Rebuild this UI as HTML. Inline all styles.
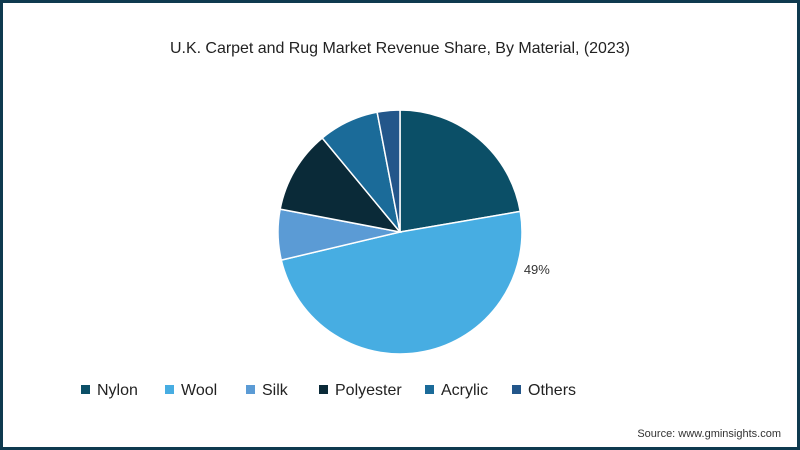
<!DOCTYPE html>
<html><head><meta charset="utf-8"><style>
html,body{margin:0;padding:0;background:#fff}
#wrap{position:relative;width:800px;height:450px;box-sizing:border-box;border:3px solid #0e3a4f;background:#fff;font-family:"Liberation Sans",sans-serif;overflow:hidden}
</style></head><body>
<div id="wrap">
<svg id="svg" width="794" height="444" style="position:absolute;left:0;top:0">
<text x="397" y="50" text-anchor="middle" font-size="16" fill="#222" textLength="460">U.K. Carpet and Rug Market Revenue Share, By Material, (2023)</text>
<g id="slices"></g>
<g id="legend"></g>
<text x="778" y="434" text-anchor="end" font-size="11" fill="#333">Source: www.gminsights.com</text>
</svg>
</div>
<script>
const categories=["Nylon","Wool","Silk","Polyester","Acrylic","Others"];
const values=[22.3,49,6.7,11,8,3];
const colors=["#0b4f67","#47ade2","#5b9bd5","#0a2a38","#1b6b99","#23568a"];
const legendX=[78,162,243,316,422,509];
const ns="http://www.w3.org/2000/svg";
const cx=397,cy=229,r=122;
const total=values.reduce((a,b)=>a+b,0);
const g=document.getElementById('slices');
let a0=0;
values.forEach((v,i)=>{
  const a1=a0+v/total*2*Math.PI;
  const x0=cx+r*Math.sin(a0),y0=cy-r*Math.cos(a0),x1=cx+r*Math.sin(a1),y1=cy-r*Math.cos(a1);
  const p=document.createElementNS(ns,'path');
  p.setAttribute('d',`M${cx},${cy}L${x0},${y0}A${r},${r} 0 ${a1-a0>Math.PI?1:0} 1 ${x1},${y1}Z`);
  p.setAttribute('fill',colors[i]);p.setAttribute('stroke','#fff');p.setAttribute('stroke-width','1.5');
  
  
  g.appendChild(p);
  if(categories[i]==="Wool"){
    const m=a0+0.44;
    const t=document.createElementNS(ns,'text');
    t.setAttribute('x',cx+(r+20)*Math.sin(m));t.setAttribute('y',cy-(r+20)*Math.cos(m)+4);
    t.setAttribute('text-anchor','middle');t.setAttribute('font-size','13');t.setAttribute('fill','#333');
    t.textContent=Math.round(v)+'%';
    
    
    g.appendChild(t);
  }
  a0=a1;
});
const lg=document.getElementById('legend');
categories.forEach((c,i)=>{
  const gi=document.createElementNS(ns,'g');
  
  
  const s=document.createElementNS(ns,'rect');
  s.setAttribute('x',legendX[i]);s.setAttribute('y',382);s.setAttribute('width',9);s.setAttribute('height',9);s.setAttribute('fill',colors[i]);
  const t=document.createElementNS(ns,'text');
  t.setAttribute('x',legendX[i]+16);t.setAttribute('y',392);t.setAttribute('font-size','16');t.setAttribute('fill','#222');
  t.textContent=c;
  gi.appendChild(s);gi.appendChild(t);lg.appendChild(gi);
});
</script>
</body></html>
